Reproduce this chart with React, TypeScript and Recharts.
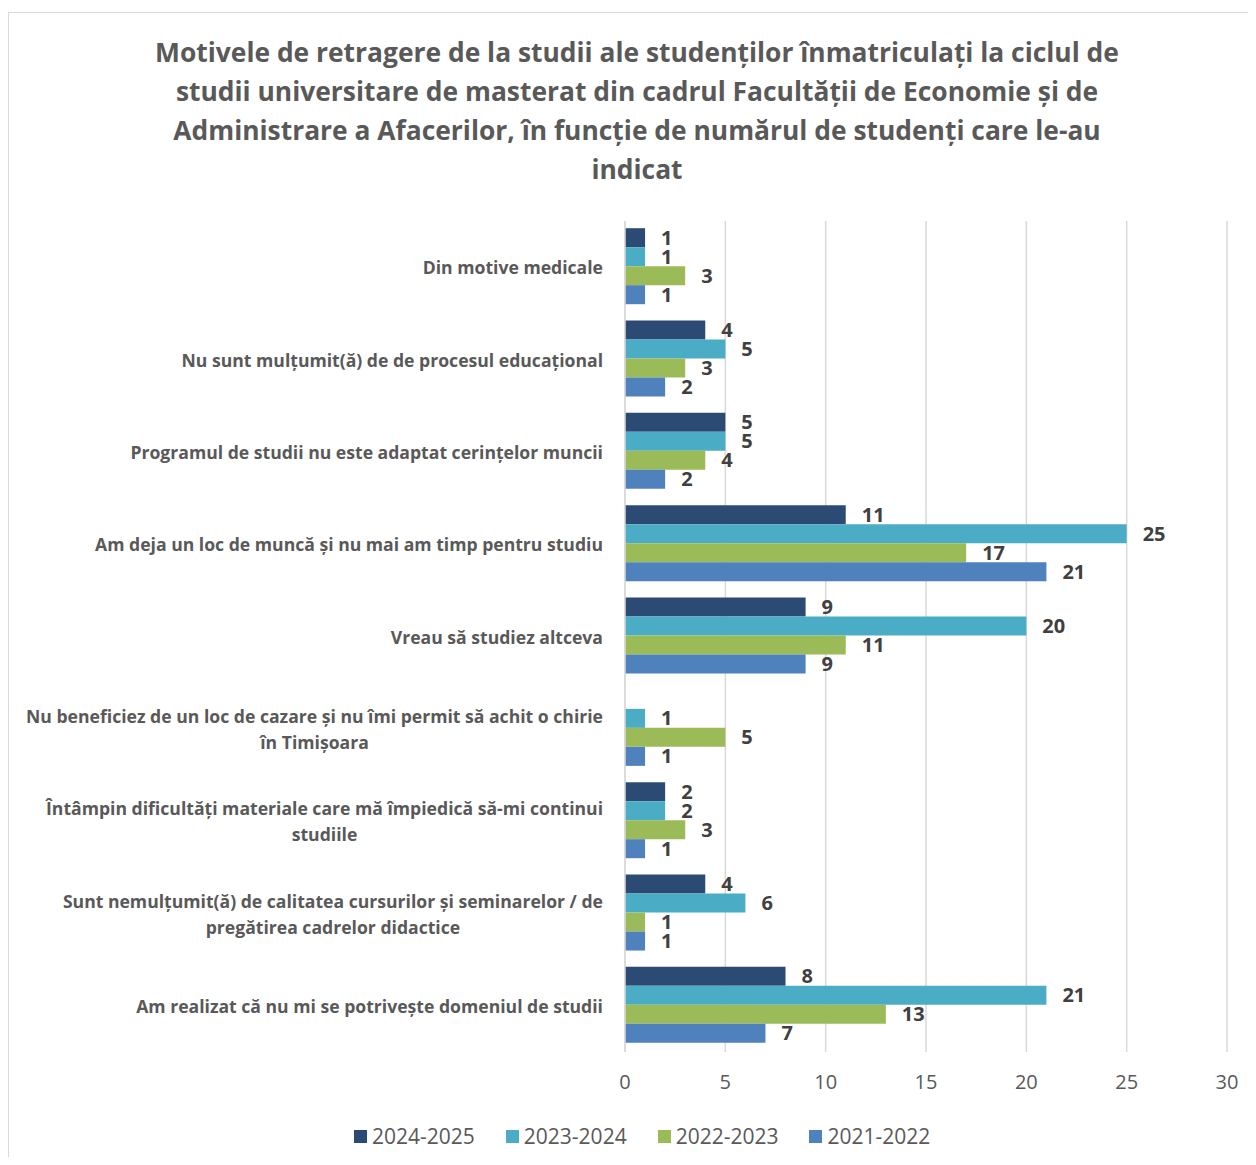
import React from 'react';
import { BarChart, Bar, XAxis, YAxis, CartesianGrid, LabelList } from 'recharts';

const categories = [
  'Din motive medicale',
  'Nu sunt mulțumit(ă) de de procesul educațional',
  'Programul de studii nu este adaptat cerințelor muncii',
  'Am deja un loc de muncă și nu mai am timp pentru studiu',
  'Vreau să studiez altceva',
  'Nu beneficiez de un loc de cazare și nu îmi permit să achit o chirie în Timișoara',
  'Întâmpin dificultăți materiale care mă împiedică să-mi continui studiile',
  'Sunt nemulțumit(ă) de calitatea cursurilor și seminarelor / de pregătirea cadrelor didactice',
  'Am realizat că nu mi se potrivește domeniul de studii',
];

const seriesNames = ['2024-2025', '2023-2024', '2022-2023', '2021-2022'];
const values2024_2025: (number | null)[] = [1, 4, 5, 11, 9, null, 2, 4, 8];
const values2023_2024: (number | null)[] = [1, 5, 5, 25, 20, 1, 2, 6, 21];
const values2022_2023: (number | null)[] = [3, 3, 4, 17, 11, 5, 3, 1, 13];
const values2021_2022: (number | null)[] = [1, 2, 2, 21, 9, 1, 1, 1, 7];
const xTicks = [0, 5, 10, 15, 20, 25, 30];

const seriesKeys = ['s0', 's1', 's2', 's3'];
const seriesColors = ['#2C4B74', '#4BACC6', '#9BBB59', '#4F81BD'];
const seriesValues = [values2024_2025, values2023_2024, values2022_2023, values2021_2022];

const data = categories.map((category, i) => {
  const row: Record<string, any> = { category };
  seriesKeys.forEach((k, j) => {
    row[k] = seriesValues[j][i];
  });
  return row;
});

const FONT = '"Open Sans", Lato, sans-serif';
const CAT_FONT_SIZE = 17.6;
const CAT_FONT = `bold ${CAT_FONT_SIZE}px "Open Sans"`;

let ctx: CanvasRenderingContext2D | null = null;
function measure(text: string, font: string): number {
  if (!ctx) {
    const c = document.createElement('canvas');
    ctx = c.getContext('2d');
  }
  if (!ctx) return text.length * 9;
  ctx.font = font;
  return ctx.measureText(text).width;
}

function wrap(text: string, maxWidth: number): string[] {
  const words = text.split(' ');
  const lines: string[] = [];
  let cur = '';
  for (const w of words) {
    const test = cur ? cur + ' ' + w : w;
    if (cur && measure(test, CAT_FONT) > maxWidth) {
      lines.push(cur);
      cur = w;
    } else {
      cur = test;
    }
  }
  if (cur) lines.push(cur);
  return lines;
}

function YTick(props: any) {
  const { x, y, payload } = props;
  const lines = wrap(String(payload.value), 592);
  const lineH = 26;
  const startY = y - ((lines.length - 1) * lineH) / 2;
  const maxW = Math.max(...lines.map((l) => measure(l, CAT_FONT)));
  const multi = lines.length > 1;
  const tx = multi ? x - maxW / 2 : x;
  return (
    <text
      x={tx}
      y={startY}
      textAnchor={multi ? 'middle' : 'end'}
      dominantBaseline="central"
      fill="#595959"
      fontFamily={FONT}
      fontWeight="bold"
      fontSize={CAT_FONT_SIZE}
    >
      {lines.map((l, i) => (
        <tspan key={i} x={tx} y={startY + i * lineH}>
          {l}
        </tspan>
      ))}
    </text>
  );
}

const titleLines = [
  'Motivele de retragere de la studii ale studenților înmatriculați la ciclul de',
  'studii universitare de masterat din cadrul Facultății de Economie și de',
  'Administrare a Afacerilor, în funcție de numărul de studenți care le-au',
  'indicat',
];

export default function App() {
  return (
    <div
      style={{
        position: 'relative',
        width: 1256,
        height: 1165,
        margin: -8,
        overflow: 'hidden',
        background: '#fff',
        fontFamily: FONT,
      }}
    >
      <div
        style={{
          position: 'absolute',
          left: 8,
          top: 12,
          width: 1300,
          height: 1300,
          border: '1.5px solid #D9D9D9',
          boxSizing: 'border-box',
        }}
      />
      <div
        style={{
          position: 'absolute',
          left: 8,
          top: 33,
          width: 1258,
          textAlign: 'center',
          fontWeight: 'bold',
          fontSize: 26.4,
          lineHeight: '39px',
          color: '#595959',
        }}
      >
        {titleLines.map((l, i) => (
          <div key={i} style={{ whiteSpace: 'nowrap' }}>{l}</div>
        ))}
      </div>
      <div style={{ position: 'absolute', left: 0, top: 0 }}>
        <BarChart
          width={1256}
          height={1165}
          data={data}
          layout="vertical"
          margin={{ top: 221, right: 29, bottom: 73, left: 0 }}
          barCategoryGap="7.8%"
          barGap={0}
        >
          <CartesianGrid horizontal={false} stroke="#D9D9D9" strokeWidth={1.5} />
          <XAxis
            type="number"
            domain={[0, 30]}
            ticks={xTicks}
            axisLine={false}
            tickLine={false}
            height={40}
            tickMargin={17}
            tick={{ fill: '#595959', fontSize: 20, fontFamily: FONT }}
          />
          <YAxis
            type="category"
            dataKey="category"
            width={625}
            axisLine={{ stroke: '#D9D9D9', strokeWidth: 1.5 }}
            tickLine={false}
            tickMargin={16}
            interval={0}
            tick={<YTick />}
          />
          {seriesKeys.map((k, j) => (
            <Bar
              key={k}
              dataKey={k}
              name={seriesNames[j]}
              fill={seriesColors[j]}
              isAnimationActive={false}
            >
              <LabelList
                dataKey={k}
                position="right"
                offset={16}
                fill="#404040"
                fontSize={20}
                fontWeight="bold"
                fontFamily={FONT}
                formatter={(v: any) => (v === null || v === undefined ? '' : v)}
              />
            </Bar>
          ))}
        </BarChart>
      </div>
      <div
        style={{
          position: 'absolute',
          left: 354,
          top: 1122,
          height: 28,
          display: 'flex',
          alignItems: 'center',
          fontSize: 21,
          color: '#595959',
        }}
      >
        {seriesNames.map((n, j) => (
          <div key={n} style={{ display: 'flex', alignItems: 'center', marginRight: 31 }}>
            <div style={{ width: 13, height: 13, background: seriesColors[j], marginRight: 5 }} />
            <span>{n}</span>
          </div>
        ))}
      </div>
    </div>
  );
}
